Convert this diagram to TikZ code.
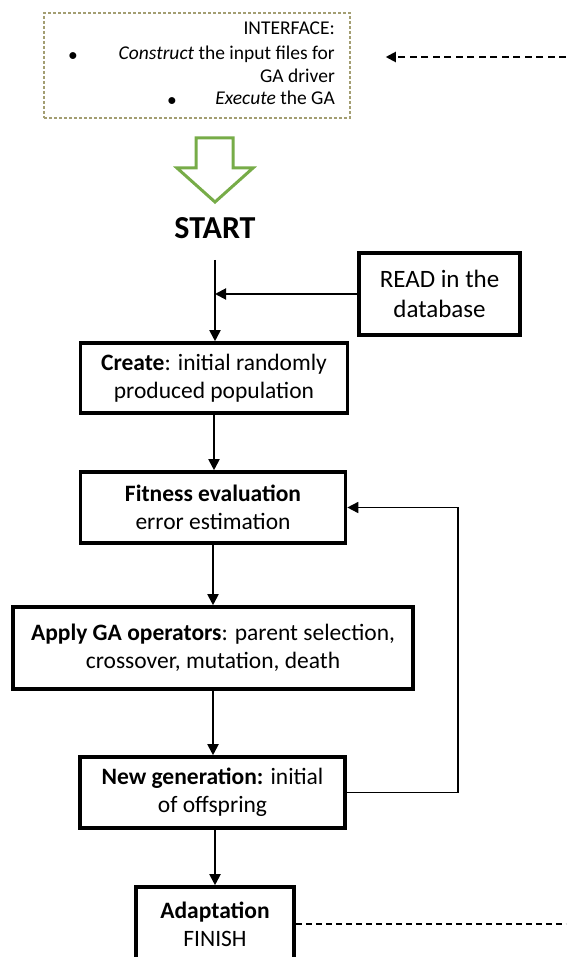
\documentclass[tikz,border=0pt]{standalone}
\usepackage{fontspec}
\setmainfont{Carlito}
\usetikzlibrary{arrows.meta}
\definecolor{ifaceline}{HTML}{A39E72}
\definecolor{greenarrow}{HTML}{77AC48}
\tikzset{
  box/.style={draw=black, line width=3.6pt, inner sep=0pt, align=center,
    font=\fontsize{23.5}{28}\selectfont},
  flow/.style={line width=1.9pt, -{Triangle[length=11pt,width=11pt]}},
  plain/.style={line width=1.6pt},
  dashlink/.style={line width=1.9pt, dash pattern=on 7pt off 4.5pt},
  iftext/.style={inner sep=0pt, font=\fontsize{19.5}{23}\selectfont},
}
\begin{document}
\begin{tikzpicture}[x=1pt,y=-1pt]
\useasboundingbox (0,0) rectangle (566,957);
\clip (0,0) rectangle (566,957);
% interface box
\node[draw=ifaceline, line width=1.5pt, dash pattern=on 3pt off 2pt,
      minimum width=306pt, minimum height=105pt, inner sep=0pt] (iface) at (197,65.5) {};
\node[iftext, anchor=mid east] (if1) at (335,32) {INTERFACE:};
\node[iftext, anchor=mid east] (if2) at (335,57) {\textit{Construct} the input files for};
\node[iftext, anchor=mid east] (if3) at (335,80) {GA driver};
\node[iftext, anchor=mid east] (if4) at (335,102) {\textit{Execute} the GA};
\node[iftext] (b1) at (73,57) {•};
\node[iftext] (b2) at (172,102) {•};
\coordinate (tr) at (566,57);
\draw[dashlink, -{Triangle[length=10pt,width=10pt]}, shorten >=35pt] (tr) -- (iface.east |- tr);
% green hollow arrow
\draw[greenarrow, line width=3pt, line join=miter]
  (196,138) -- (233,138) -- (233,168) -- (253,168) -- (215,202) -- (177,168) -- (196,168) -- cycle;
% START
\node[inner sep=0pt, font=\fontsize{32}{36}\selectfont\bfseries] (start) at (215,228) {START};
\coordinate (s1) at (215,260);
\coordinate (j1) at (215,294);
% boxes
\node[box, font=\fontsize{25}{30}\selectfont, minimum width=161pt, minimum height=82pt] (read) at (439.5,294) {READ in the\\database};
\node[box, minimum width=267pt, minimum height=70pt] (create) at (214,378) {\textbf{Create}: initial randomly\\produced population};
\node[box, minimum width=265pt, minimum height=71pt] (fit) at (213,507.5) {\textbf{Fitness evaluation}\\error estimation};
\node[box, minimum width=400pt, minimum height=82pt] (apply) at (213,648) {\textbf{Apply GA operators}: parent selection,\\crossover, mutation, death};
\node[box, minimum width=265pt, minimum height=71pt] (newg) at (212.5,792.5) {\textbf{New generation:} initial\\of offspring};
\node[box, minimum width=158pt, minimum height=74pt] (adapt) at (215,924) {\textbf{Adaptation}\\FINISH};
% connectors
\draw[flow] (s1) -- (s1 |- create.north);
\draw[flow] (read.west) -- (j1);
\draw[flow] (create.south) -- (create.south |- fit.north);
\draw[flow] (fit.south) -- (fit.south |- apply.north);
\draw[flow] (apply.south) -- (apply.south |- newg.north);
\draw[flow] (newg.south -| adapt.north) -- (adapt.north);
\coordinate (lp) at (458,792.5);
\draw[plain, -{Triangle[length=11pt,width=11pt]}] (newg.east) -- (lp) -- (lp |- fit.east) -- (fit.east);
\coordinate (br) at (566,924);
\draw[plain, dash pattern=on 6pt off 4pt] (adapt.east) -- (br);
\end{tikzpicture}
\end{document}
